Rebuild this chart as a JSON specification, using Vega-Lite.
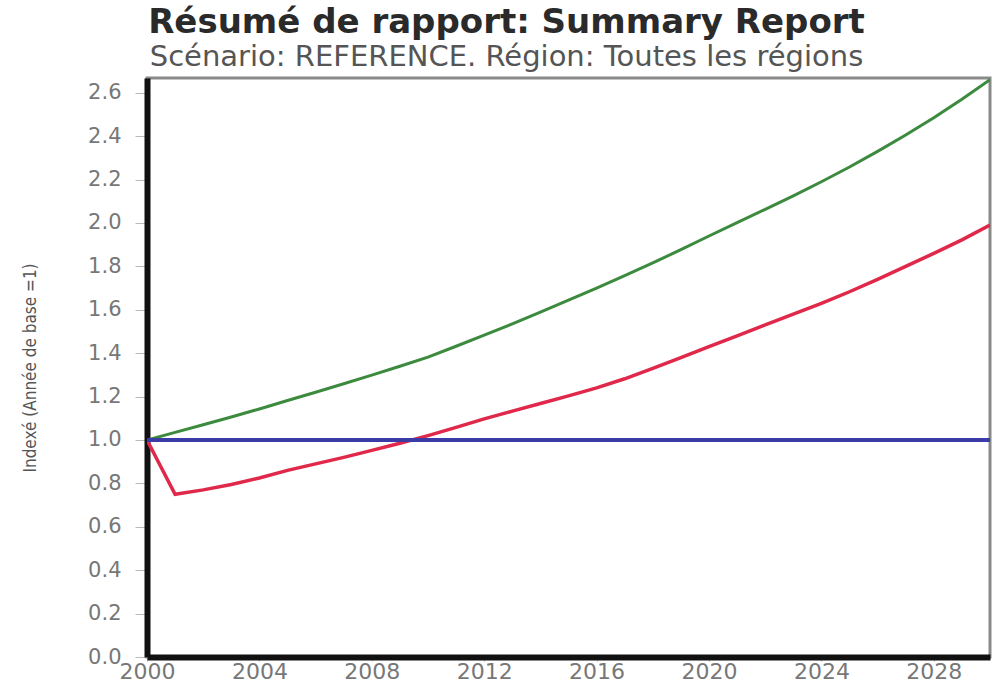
{
  "$schema": "https://vega.github.io/schema/vega-lite/v6.json",
  "width": 843,
  "height": 579,
  "autosize": {"type": "none"},
  "padding": {"left": 147, "top": 78, "right": 13, "bottom": 27},
  "background": "white",
  "config": {
    "view": {"stroke": "#8a8a8a", "strokeWidth": 3},
    "font": "DejaVu Sans"
  },
  "title": {
    "text": "Résumé de rapport: Summary Report",
    "subtitle": "Scénario: REFERENCE. Région: Toutes les régions",
    "anchor": "middle",
    "dx": -62,
    "font": "DejaVu Sans",
    "fontSize": 34,
    "fontWeight": "bold",
    "color": "#2a2a2a",
    "subtitleFont": "DejaVu Sans",
    "subtitleFontSize": 29,
    "subtitleColor": "#555555",
    "subtitlePadding": 3,
    "offset": 6
  },
  "data": {
    "values": [
      {"annee": 2000, "serie": "Croissance", "valeur": 1.0},
      {"annee": 2001, "serie": "Croissance", "valeur": 1.035},
      {"annee": 2002, "serie": "Croissance", "valeur": 1.07},
      {"annee": 2003, "serie": "Croissance", "valeur": 1.106},
      {"annee": 2004, "serie": "Croissance", "valeur": 1.143},
      {"annee": 2005, "serie": "Croissance", "valeur": 1.182},
      {"annee": 2006, "serie": "Croissance", "valeur": 1.22},
      {"annee": 2007, "serie": "Croissance", "valeur": 1.259},
      {"annee": 2008, "serie": "Croissance", "valeur": 1.299},
      {"annee": 2009, "serie": "Croissance", "valeur": 1.34},
      {"annee": 2010, "serie": "Croissance", "valeur": 1.382},
      {"annee": 2011, "serie": "Croissance", "valeur": 1.432},
      {"annee": 2012, "serie": "Croissance", "valeur": 1.483},
      {"annee": 2013, "serie": "Croissance", "valeur": 1.535},
      {"annee": 2014, "serie": "Croissance", "valeur": 1.589},
      {"annee": 2015, "serie": "Croissance", "valeur": 1.645},
      {"annee": 2016, "serie": "Croissance", "valeur": 1.7},
      {"annee": 2017, "serie": "Croissance", "valeur": 1.757},
      {"annee": 2018, "serie": "Croissance", "valeur": 1.816},
      {"annee": 2019, "serie": "Croissance", "valeur": 1.877},
      {"annee": 2020, "serie": "Croissance", "valeur": 1.94},
      {"annee": 2021, "serie": "Croissance", "valeur": 2.002},
      {"annee": 2022, "serie": "Croissance", "valeur": 2.063},
      {"annee": 2023, "serie": "Croissance", "valeur": 2.125},
      {"annee": 2024, "serie": "Croissance", "valeur": 2.19},
      {"annee": 2025, "serie": "Croissance", "valeur": 2.258},
      {"annee": 2026, "serie": "Croissance", "valeur": 2.33},
      {"annee": 2027, "serie": "Croissance", "valeur": 2.405},
      {"annee": 2028, "serie": "Croissance", "valeur": 2.485},
      {"annee": 2029, "serie": "Croissance", "valeur": 2.57},
      {"annee": 2030, "serie": "Croissance", "valeur": 2.66},
      {"annee": 2000, "serie": "Indice", "valeur": 1.0},
      {"annee": 2001, "serie": "Indice", "valeur": 0.75},
      {"annee": 2002, "serie": "Indice", "valeur": 0.77},
      {"annee": 2003, "serie": "Indice", "valeur": 0.795},
      {"annee": 2004, "serie": "Indice", "valeur": 0.825},
      {"annee": 2005, "serie": "Indice", "valeur": 0.86},
      {"annee": 2006, "serie": "Indice", "valeur": 0.89},
      {"annee": 2007, "serie": "Indice", "valeur": 0.92},
      {"annee": 2008, "serie": "Indice", "valeur": 0.952},
      {"annee": 2009, "serie": "Indice", "valeur": 0.985},
      {"annee": 2010, "serie": "Indice", "valeur": 1.02},
      {"annee": 2011, "serie": "Indice", "valeur": 1.058},
      {"annee": 2012, "serie": "Indice", "valeur": 1.097},
      {"annee": 2013, "serie": "Indice", "valeur": 1.133},
      {"annee": 2014, "serie": "Indice", "valeur": 1.168},
      {"annee": 2015, "serie": "Indice", "valeur": 1.203},
      {"annee": 2016, "serie": "Indice", "valeur": 1.24},
      {"annee": 2017, "serie": "Indice", "valeur": 1.282},
      {"annee": 2018, "serie": "Indice", "valeur": 1.33},
      {"annee": 2019, "serie": "Indice", "valeur": 1.38},
      {"annee": 2020, "serie": "Indice", "valeur": 1.43},
      {"annee": 2021, "serie": "Indice", "valeur": 1.48},
      {"annee": 2022, "serie": "Indice", "valeur": 1.53},
      {"annee": 2023, "serie": "Indice", "valeur": 1.58},
      {"annee": 2024, "serie": "Indice", "valeur": 1.63},
      {"annee": 2025, "serie": "Indice", "valeur": 1.683},
      {"annee": 2026, "serie": "Indice", "valeur": 1.74},
      {"annee": 2027, "serie": "Indice", "valeur": 1.8},
      {"annee": 2028, "serie": "Indice", "valeur": 1.86},
      {"annee": 2029, "serie": "Indice", "valeur": 1.922},
      {"annee": 2030, "serie": "Indice", "valeur": 1.99},
      {"annee": 2000, "serie": "Référence", "valeur": 1.0},
      {"annee": 2030, "serie": "Référence", "valeur": 1.0}
    ]
  },
  "mark": {"type": "line", "clip": true},
  "encoding": {
    "x": {
      "field": "annee",
      "type": "quantitative",
      "scale": {"domain": [2000, 2030], "nice": false},
      "axis": {
        "title": null,
        "values": [2000, 2004, 2008, 2012, 2016, 2020, 2024, 2028],
        "format": "d",
        "grid": false,
        "domainColor": "#111111",
        "domainWidth": 6,
        "tickColor": "#bbbbbb",
        "tickSize": 4,
        "labelFont": "DejaVu Sans",
        "labelFontSize": 22,
        "labelColor": "#777777",
        "labelPadding": 0,
        "labelFlush": false
      }
    },
    "y": {
      "field": "valeur",
      "type": "quantitative",
      "scale": {"domain": [0, 2.668], "nice": false},
      "axis": {
        "title": "Indexé (Année de base =1)",
        "titleFont": "DejaVu Sans Condensed",
        "titleFontSize": 17,
        "titleFontWeight": "normal",
        "titleColor": "#555555",
        "titlePadding": 48,
        "values": [0, 0.2, 0.4, 0.6, 0.8, 1.0, 1.2, 1.4, 1.6, 1.8, 2.0, 2.2, 2.4, 2.6],
        "format": ".1f",
        "grid": false,
        "domainColor": "#111111",
        "domainWidth": 6,
        "tickColor": "#bbbbbb",
        "tickSize": 12,
        "labelFont": "DejaVu Sans",
        "labelFontSize": 21,
        "labelColor": "#777777",
        "labelPadding": 14
      }
    },
    "color": {
      "field": "serie",
      "type": "nominal",
      "scale": {
        "domain": ["Croissance", "Indice", "Référence"],
        "range": ["#3b8a3e", "#e0284a", "#3b3ba8"]
      },
      "legend": null
    },
    "strokeWidth": {
      "field": "serie",
      "type": "nominal",
      "scale": {
        "domain": ["Croissance", "Indice", "Référence"],
        "range": [3, 4, 2.5]
      },
      "legend": null
    }
  }
}
